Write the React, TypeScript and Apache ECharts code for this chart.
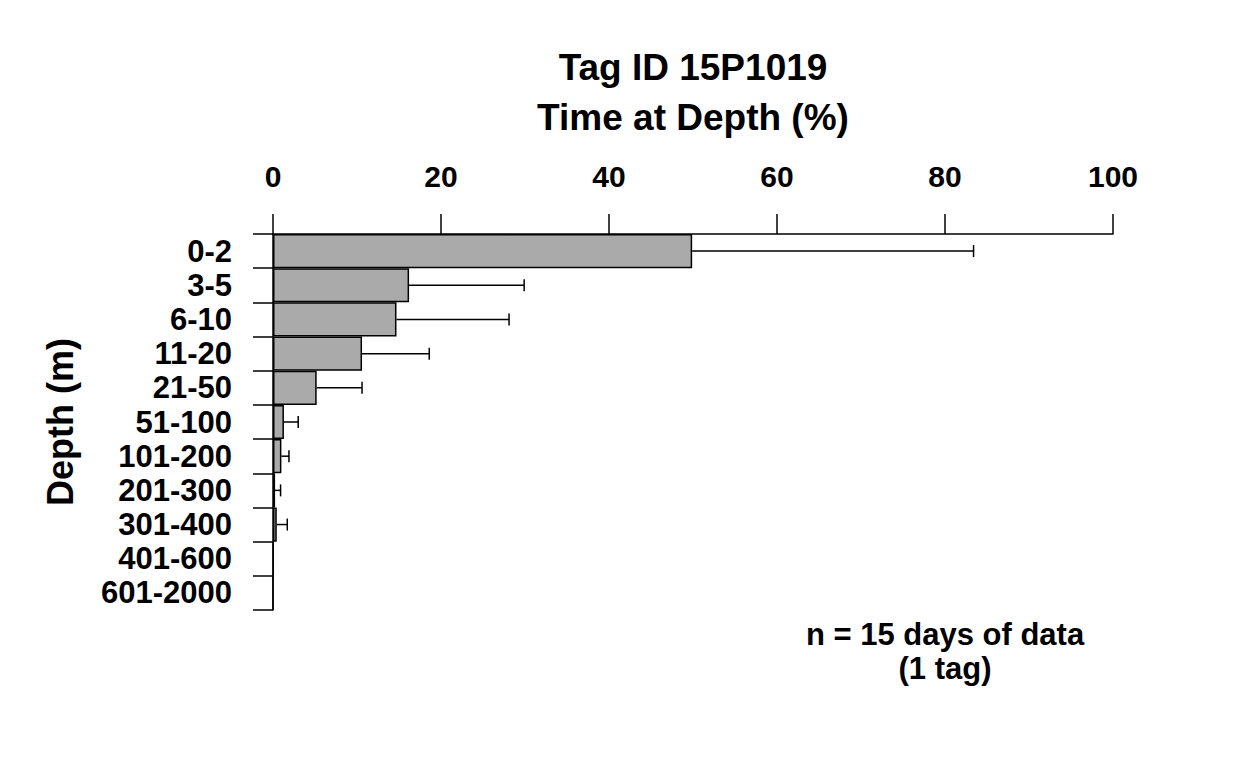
import React, { useEffect, useRef } from "react";
import * as echarts from "echarts";

const depthCategories = ["0-2", "3-5", "6-10", "11-20", "21-50", "51-100", "101-200", "201-300", "301-400", "401-600", "601-2000"];
const timeAtDepth = [49.9, 16.2, 14.7, 10.6, 5.2, 1.3, 1.0, 0.25, 0.45, 0.05, 0];
const errorUpper: (number | null)[] = [83.4, 29.9, 28.1, 18.6, 10.6, 3.0, 1.9, 0.9, 1.7, null, null];
const xTicks = { min: 0, max: 100, interval: 20 };
const titleLines = ["Tag ID 15P1019", "Time at Depth (%)"];
const noteLines = ["n = 15 days of data", "(1 tag)"];
const yName = "Depth (m)";

const FONT = "'Liberation Sans', Arial, Helvetica, sans-serif";

export default function App() {
  const ref = useRef<HTMLDivElement>(null);
  useEffect(() => {
    if (!ref.current) return;
    const chart = echarts.init(ref.current, undefined, { renderer: "svg" });
    const errData = errorUpper
      .map((e, i) => (e == null ? null : [e, i, timeAtDepth[i]]))
      .filter((d) => d !== null);
    chart.setOption({
      animation: false,
      backgroundColor: "#ffffff",
      textStyle: { fontFamily: FONT },
      grid: { left: 273, right: 135, top: 234, bottom: 158, containLabel: false },
      xAxis: {
        type: "value",
        position: "top",
        min: xTicks.min,
        max: xTicks.max,
        interval: xTicks.interval,
        splitLine: { show: false },
        axisLine: { show: true, lineStyle: { color: "#000", width: 1.5 } },
        axisTick: { show: true, length: 20, inside: false, lineStyle: { color: "#000", width: 1.5 } },
        axisLabel: { color: "#000", fontSize: 30, fontWeight: "bold", fontFamily: FONT, margin: 43 },
      },
      yAxis: {
        type: "category",
        inverse: true,
        data: depthCategories,
        axisLine: { show: true, onZero: false, lineStyle: { color: "#000", width: 1.5 } },
        axisTick: { show: true, length: 20, interval: 0, alignWithLabel: false, lineStyle: { color: "#000", width: 1.5 } },
        axisLabel: { color: "#000", fontSize: 31, fontWeight: "bold", fontFamily: FONT, margin: 41, interval: 0 },
        splitLine: { show: false },
      },
      series: [
        {
          type: "bar",
          data: timeAtDepth,
          barCategoryGap: "0%",
          itemStyle: { color: "#aaaaaa", borderColor: "#000", borderWidth: 1.5 },
          z: 2,
        },
        {
          type: "custom",
          data: errData,
          encode: { x: 0, y: 1 },
          z: 3,
          renderItem: (params: any, api: any) => {
            const e = api.value(0);
            const idx = api.value(1);
            const v = api.value(2);
            const s = api.coord([v, idx]);
            const t = api.coord([e, idx]);
            const st = { stroke: "#000", lineWidth: 1.5 };
            return {
              type: "group",
              children: [
                { type: "line", shape: { x1: s[0], y1: s[1], x2: t[0], y2: t[1] }, style: st },
                { type: "line", shape: { x1: t[0], y1: t[1] - 6, x2: t[0], y2: t[1] + 6 }, style: st },
              ],
            };
          },
        },
      ],
      graphic: [
        {
          type: "text",
          x: 693,
          y: 67,
          style: { text: titleLines[0], font: `bold 37px ${FONT}`, fill: "#000", align: "center", verticalAlign: "middle" },
        },
        {
          type: "text",
          x: 693,
          y: 117,
          style: { text: titleLines[1], font: `bold 37px ${FONT}`, fill: "#000", align: "center", verticalAlign: "middle" },
        },
        {
          type: "text",
          x: 60,
          y: 422,
          rotation: Math.PI / 2,
          style: { text: yName, font: `bold 36px ${FONT}`, fill: "#000", align: "center", verticalAlign: "middle" },
        },
        {
          type: "text",
          x: 945,
          y: 634,
          style: { text: noteLines[0], font: `bold 31px ${FONT}`, fill: "#000", align: "center", verticalAlign: "middle" },
        },
        {
          type: "text",
          x: 945,
          y: 668,
          style: { text: noteLines[1], font: `bold 31px ${FONT}`, fill: "#000", align: "center", verticalAlign: "middle" },
        },
      ],
    });
    return () => chart.dispose();
  }, []);
  return <div ref={ref} style={{ position: "absolute", left: 0, top: 0, width: 1248, height: 768 }} />;
}
